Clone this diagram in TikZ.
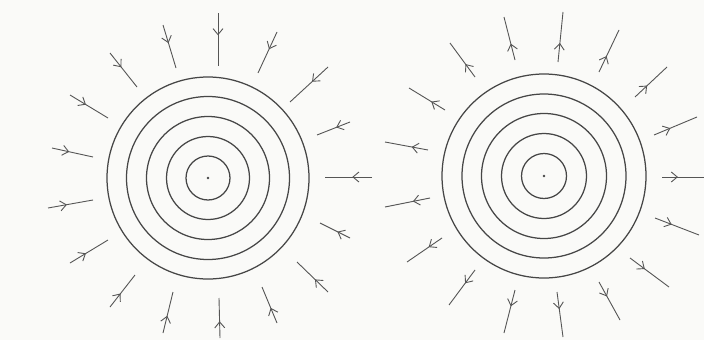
\documentclass[tikz,border=0pt]{standalone}
\usetikzlibrary{arrows.meta,decorations.markings}
\definecolor{paper}{RGB}{250,250,248}
\definecolor{ink}{RGB}{85,85,85}
\definecolor{inkc}{RGB}{70,70,70}
\begin{document}
\begin{tikzpicture}[x=1pt,y=-1pt,
  ring/.style={draw=inkc,line width=1.25pt},
  fieldin/.style={draw=ink,line width=0.9pt,postaction={decorate},
    decoration={markings,mark=at position 0.42 with {\arrow{Straight Barb[length=6pt,width=10pt,line width=0.9pt]}}}},
  fieldout/.style={draw=ink,line width=0.9pt,postaction={decorate},
    decoration={markings,mark=at position 0.38 with {\arrow{Straight Barb[length=6pt,width=10pt,line width=0.9pt]}}}}]
\fill[paper] (0,0) rectangle (704,340);
\useasboundingbox (0,0) rectangle (704,340);
% centres
\coordinate (LC) at (208,178);
\coordinate (RC) at (544,176);
\foreach \r in {22,41.5,61.5,81.5,101} \draw[ring] (LC) circle (\r);
\foreach \r in {22.5,42.5,62.5,82,102} \draw[ring] (RC) circle (\r);
\fill[inkc] (LC) circle (1.4);
\fill[inkc] (RC) circle (1.4);
% left: inward arrows (outer -> inner)
\foreach \i/\ox/\oy/\ix/\iy in {
  1/218/13/218/66, 2/163/25/176/68, 3/110/53/137/87, 4/70/95/108/118,
  5/52/148/93/157, 6/48/208/93/200, 7/70/263/108/240, 8/110/307/135/275,
  9/163/333/173/292, 10/220/338/219/298, 11/277/323/262/287, 12/328/292/297/262,
  13/350/238/320/223, 14/372/177/325/177, 15/350/122/317/135, 16/328/67/290/102,
  17/277/32/258/73}{
  \coordinate (Lo\i) at (\ox,\oy);
  \coordinate (Li\i) at (\ix,\iy);
  \draw[fieldin] (Lo\i) -- (Li\i);
}
% right: outward arrows (inner -> outer)
\foreach \i/\ix/\iy/\ox/\oy in {
  1/558/62/563/12, 2/515/60/504/17, 3/475/77/450/43, 4/445/110/409/88,
  5/428/150/385/142, 6/430/198/385/207, 7/442/238/407/262, 8/475/270/449/305,
  9/515/290/504/333, 10/557/292/563/337, 11/599/282/620/320, 12/630/258/669/287,
  13/655/218/699/235, 14/662/177/704/177, 15/654/135/697/117, 16/635/97/667/67,
  17/599/72/619/30}{
  \coordinate (Ri\i) at (\ix,\iy);
  \coordinate (Ro\i) at (\ox,\oy);
  \draw[fieldout] (Ri\i) -- (Ro\i);
}
\end{tikzpicture}
\end{document}
